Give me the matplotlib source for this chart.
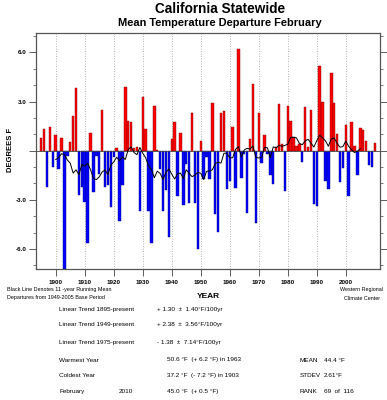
import numpy as np
import matplotlib
matplotlib.use("Agg")
import matplotlib.pyplot as plt
from matplotlib.ticker import MultipleLocator

plt.rcParams['font.family'] = ['Liberation Sans', 'DejaVu Sans']

# February mean temperature departures (deg F), 1895-2010
years = list(range(1895, 2011))
departures = [
    0.75, 1.32, -2.2, 1.46, -0.98,                              # 1895-1899
    0.98, -1.1, 0.79, -7.2, -0.3, 0.55, 2.13, 3.82, -2.7, -2.2,  # 1900s
    -3.15, -5.65, 1.06, -2.5, -0.3, -1.4, 2.48, -2.2, -2.1, -3.45,  # 1910s
    -0.4, 0.15, -4.27, -2.1, 3.9, 1.83, 1.77, 0.15, 0.25, -3.7,  # 1920s
    3.25, 1.34, -3.7, -5.65, 2.72, 0.05, -1.14, -3.7, -2.4, -5.25,  # 1930s
    0.7, 1.77, -2.76, 1.1, -3.3, -0.8, -3.2, 2.28, -3.2, -6.0,  # 1940s
    0.6, -1.75, -0.4, -1.7, 2.89, -3.86, -4.98, 2.28, 2.44, -2.32,  # 1950s
    -1.83, 1.46, -2.28, 6.2, -1.69, -0.2, -3.82, 0.69, 4.1, -4.43,  # 1960s
    2.32, -0.77, 0.96, -0.2, -1.48, -2.03, 0.25, 2.85, 0.4, -2.48,  # 1970s
    2.72, 1.81, 0.81, 0.3, 0.4, -0.7, 2.68, 0.2, 2.48, -3.28,  # 1980s
    -3.39, 5.2, 2.99, -1.83, -2.32, 4.72, 2.93, 1.0, -1.91, -1.08,  # 1990s
    1.57, -2.76, 1.75, 0.3, -1.46, 1.38, 1.24, 0.59, -0.87, -0.98,  # 2000s
    0.5,                                                        # 2010
]
decades = list(range(1900, 2001, 10))
ytick_vals = [-6, -3, 0, 3, 6]
ytick_labels = ['-6.0', '-3.0', '', '3.0', '6.0']

# text block under the chart
trend_names = ['Linear Trend 1895-present', 'Linear Trend 1949-present', 'Linear Trend 1975-present']
trend_vals = ['+ 1.30  \u00b1  1.40\u00b0F/100yr', '+ 2.38  \u00b1  3.56\u00b0F/100yr', '- 1.38  \u00b1  7.14\u00b0F/100yr']
rec_names = ['Warmest Year', 'Coldest Year', 'February']
rec_vals = ['50.6 \u00b0F  (+ 6.2 \u00b0F) in 1963', '37.2 \u00b0F  (- 7.2 \u00b0F) in 1903', '45.0 \u00b0F  (+ 0.5 \u00b0F)']
sum_names = ['MEAN', 'STDEV', 'RANK']
sum_vals = ['44.4 \u00b0F', '2.61\u00b0F', '69  of  116']

W, H = 387, 400
fig = plt.figure(figsize=(W / 100, H / 100), dpi=100)
ax = fig.add_axes([36 / W, 1 - 268.6 / H, 344 / W, 235.8 / H])

dep = np.array(departures)
yrs = np.array(years)
colors = ['#ff0000' if d >= 0 else '#0000ff' for d in dep]
edges = ['#800000' if d >= 0 else '#000080' for d in dep]
ax.bar(yrs, dep, width=0.85, color=colors, edgecolor=edges, linewidth=0.3, zorder=2)

# 11-year running mean
run = np.convolve(dep, np.ones(11) / 11, mode='valid')
ax.plot(yrs[5:-5], run, color='black', lw=0.7, zorder=3)

ax.axhline(0, color='#444444', lw=0.6, zorder=2.5)
ax.set_xlim(1893.2, 2011.8)
ax.set_ylim(-7.2, 7.2)

ax.set_xticks(decades)
ax.set_xticklabels([str(d) for d in decades], fontsize=4.5, fontweight='bold')
ax.set_yticks(ytick_vals)
ax.set_yticklabels(ytick_labels, fontsize=4.5, fontweight='bold')
ax.yaxis.set_minor_locator(MultipleLocator(1))
ax.tick_params(axis='y', which='major', direction='out', length=5, width=0.6,
               left=True, right=True, pad=2, colors='#444444', labelcolor='black')
ax.tick_params(axis='y', which='minor', direction='out', length=2.5, width=0.5,
               left=True, right=True, colors='#444444')
ax.tick_params(axis='x', which='major', direction='out', length=5, width=0.6,
               bottom=True, top=False, pad=3, colors='#444444', labelcolor='black')
ax.grid(axis='x', linestyle=(0, (1, 2)), color='#999999', lw=0.6, zorder=1)
for s in ax.spines.values():
    s.set_color('#555555')
    s.set_linewidth(0.9)

def fx(x):
    return x / W

def fy(y):
    return 1 - y / H

fig.text(fx(220), fy(9), 'California Statewide', fontsize=9.8, fontweight='bold',
         ha='center', va='center')
fig.text(fx(220), fy(23), 'Mean Temperature Departure February', fontsize=7.9,
         fontweight='bold', ha='center', va='center')
fig.text(fx(11), fy(150), 'DEGREES F', fontsize=5.5, fontweight='bold',
         rotation=90, ha='center', va='center')

fig.text(fx(208), fy(296.5), 'YEAR', fontsize=6, fontweight='bold', ha='center', va='center')
fig.text(fx(7), fy(290), 'Black Line Denotes 11 -year Running Mean', fontsize=3.9,
         ha='left', va='center')
fig.text(fx(7), fy(298), 'Departures from 1949-2005 Base Period', fontsize=3.9,
         ha='left', va='center')
fig.text(fx(362), fy(290), 'Western Regional', fontsize=3.9, ha='center', va='center')
fig.text(fx(362), fy(298), 'Climate Center', fontsize=3.9, ha='center', va='center')

trend_rows = [309, 324.3, 342.3]
for y, name, val in zip(trend_rows, trend_names, trend_vals):
    fig.text(fx(59), fy(y), name, fontsize=4.6, ha='left', va='center')
    fig.text(fx(157), fy(y), val, fontsize=4.6, ha='left', va='center')

rec_rows = [360, 375.7, 391.5]
for y, name, val, sname, sval in zip(rec_rows, rec_names, rec_vals, sum_names, sum_vals):
    fig.text(fx(59), fy(y), name, fontsize=4.6, ha='left', va='center')
    fig.text(fx(167), fy(y), val, fontsize=4.6, ha='left', va='center')
    fig.text(fx(300), fy(y), sname, fontsize=4.6, ha='left', va='center')
    fig.text(fx(324), fy(y), sval, fontsize=4.6, ha='left', va='center')
fig.text(fx(119), fy(rec_rows[2]), '2010', fontsize=4.6, ha='left', va='center')

fig.savefig('out.png', dpi=100)
